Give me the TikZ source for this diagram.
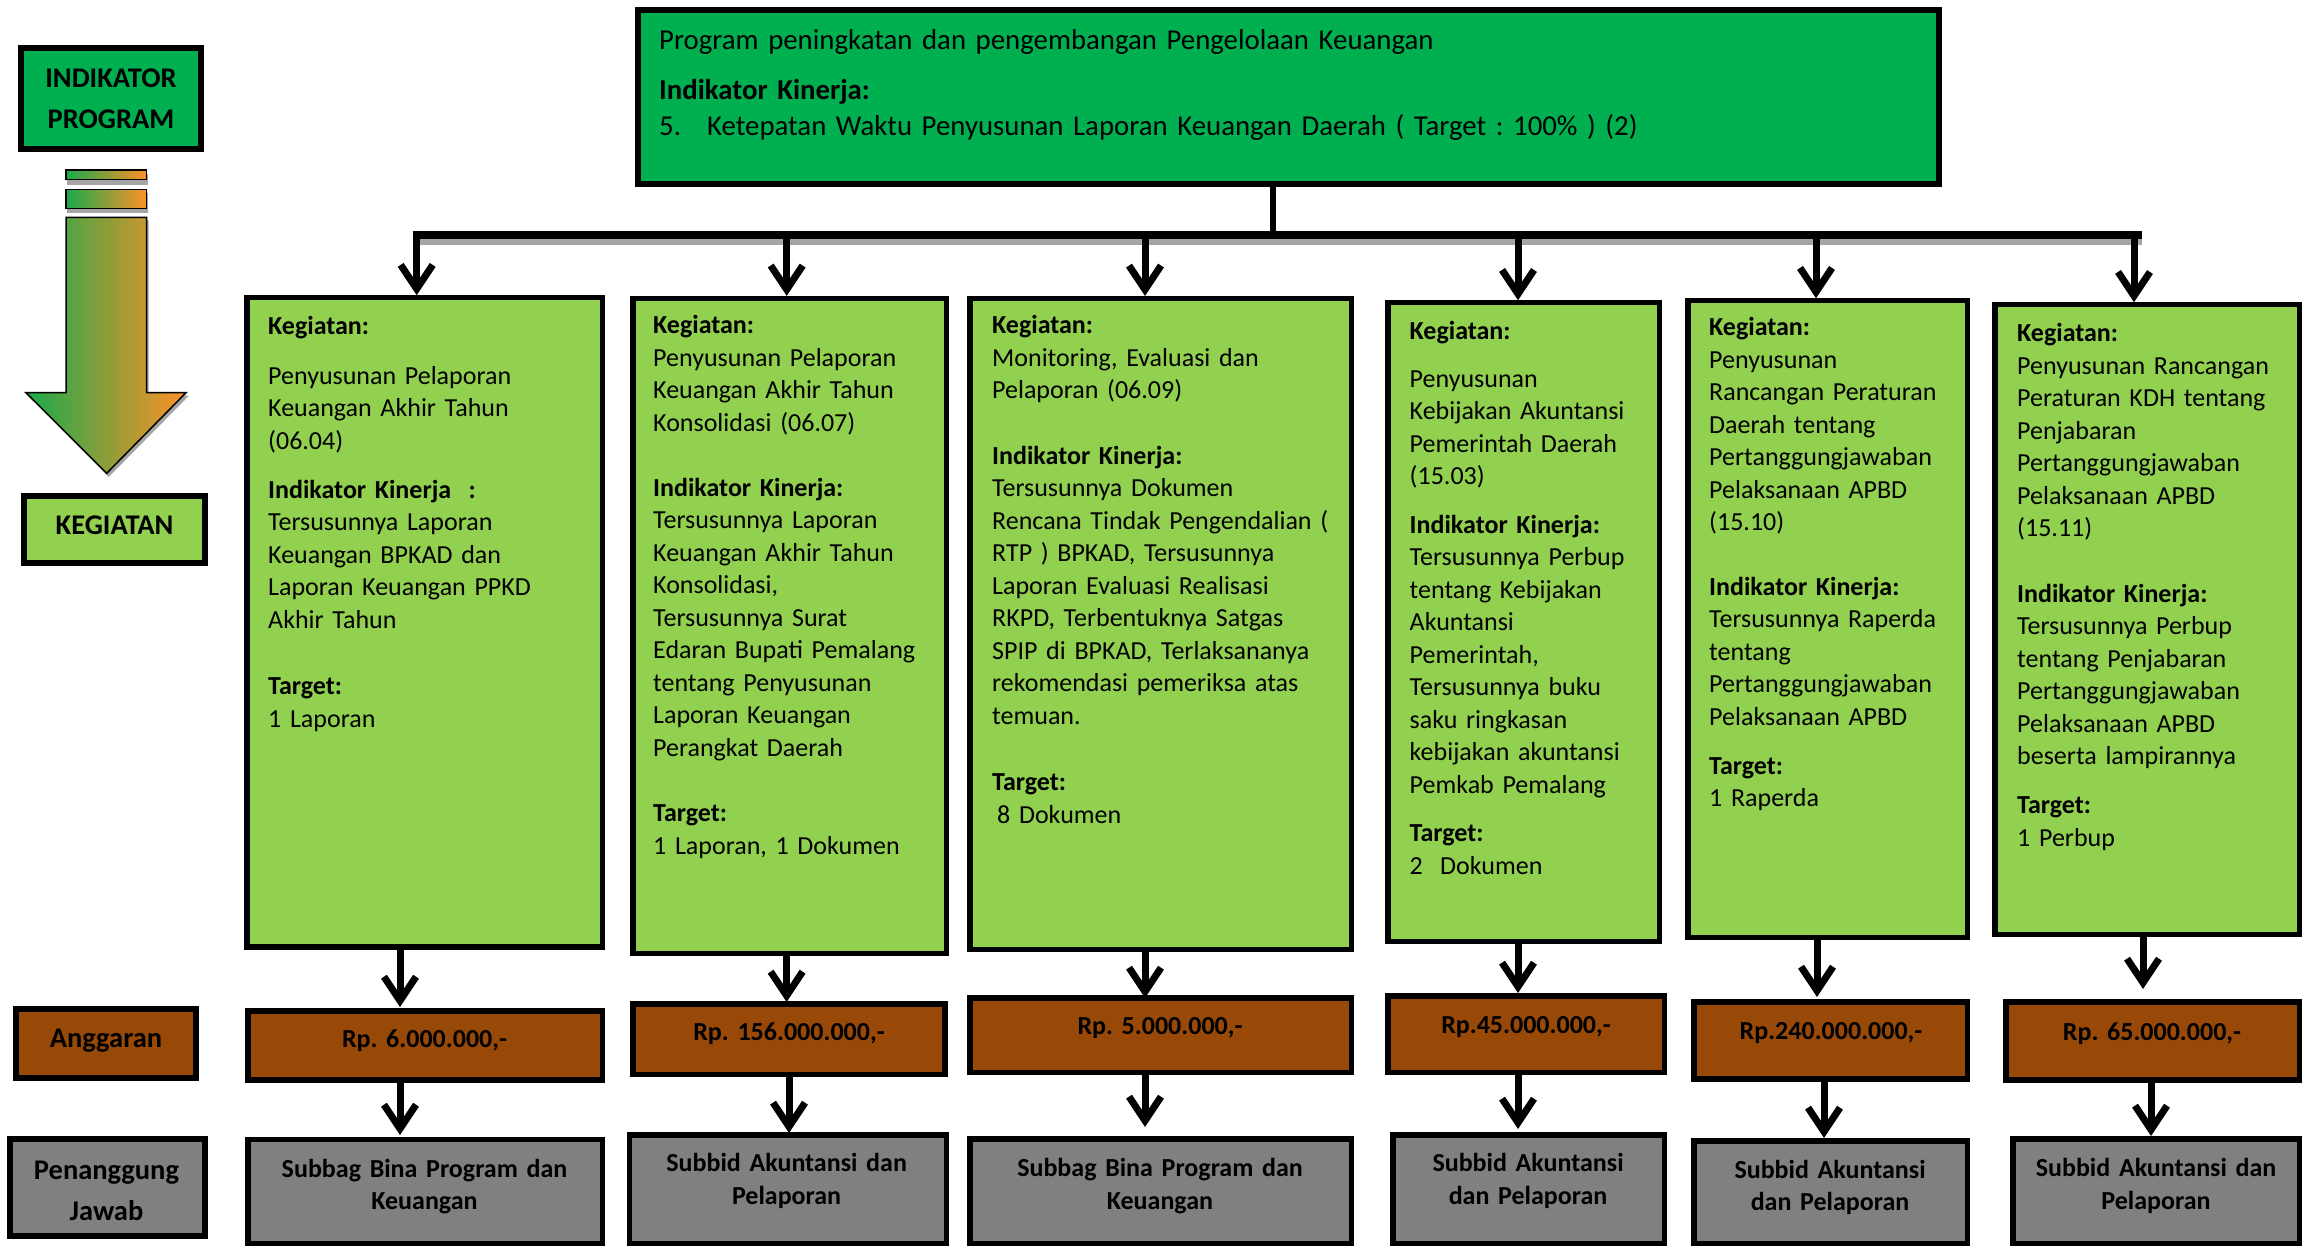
\documentclass[tikz,border=0pt]{standalone}
\usepackage{fontspec}
\setmainfont{Carlito}
\usetikzlibrary{arrows.meta,calc}
\definecolor{dgreen}{RGB}{0,176,80}
\definecolor{lgreen}{RGB}{146,208,80}
\definecolor{brownbox}{RGB}{152,72,7}
\definecolor{graybox}{RGB}{128,128,128}
\definecolor{gleft}{RGB}{25,170,75}
\definecolor{gright}{RGB}{255,145,40}
\definecolor{shadowgray}{RGB}{165,165,165}
\begin{document}
\frenchspacing
\begin{tikzpicture}[x=1pt,y=-1pt,
  boxbase/.style={draw=black, line width=5.5pt, inner sep=0pt, outer sep=0pt, anchor=north west},
  prog/.style={boxbase, fill=dgreen},
  keg/.style={boxbase, fill=lgreen},
  budget/.style={boxbase, fill=brownbox},
  resp/.style={boxbase, fill=graybox},
  body/.style={font=\fontsize{26}{32.5}\selectfont\frenchspacing, text width=420pt, align=left, anchor=base west, inner sep=0pt},
  lab/.style={font=\fontsize{28.5}{41}\selectfont\bfseries, anchor=base, inner sep=0pt, text width=300pt, align=center},
  val/.style={font=\fontsize{26}{32.5}\selectfont\bfseries\frenchspacing, anchor=base, inner sep=0pt, text width=360pt, align=center},
  arr/.style={line width=7pt, -{Straight Barb[length=24pt,width=32pt]}},
]
\useasboundingbox (0,0) rectangle (2307,1246);

% ---------- left legend column ----------
\node[prog, minimum width=180pt, minimum height=101pt] (ip) at (21,48) {};
\node[lab] (ipt) at (111,87.3) {INDIKATOR\\PROGRAM};

% gradient arrow with shadow
\fill[shadowgray] (67,174) rectangle (148,185);
\fill[shadowgray] (67,193) rectangle (148,212.7);
\fill[shadowgray] (68,220.3) -- (148.7,220.3) -- (148.7,395.7) -- (189,395.7) -- (108.7,477) -- (28,395.7) -- (68,395.7) -- cycle;
\shadedraw[left color=gleft, right color=gright, draw=black, line width=1.5pt] (66,170) rectangle (146.7,179.3);
\shadedraw[left color=gleft, right color=gright, draw=black, line width=1.5pt] (66,189.3) rectangle (146.7,208.3);
\shadedraw[left color=gleft, right color=gright, draw=black, line width=1.5pt, line join=miter]
  (66,217.3) -- (146.7,217.3) -- (146.7,392.7) -- (186,392.7) -- (106.7,473.3) -- (26,392.7) -- (66,392.7) -- cycle;

\node[keg, minimum width=181pt, minimum height=67pt] (kl) at (24,496) {};
\node[lab] (klt) at (114.6,534.6) {KEGIATAN};

\node[budget, minimum width=180pt, minimum height=69pt] (al) at (16,1009) {};
\node[lab] (alt) at (106,1047) {Anggaran};

\node[resp, minimum width=195pt, minimum height=97pt] (pl) at (10,1139) {};
\node[lab] (plt) at (106.5,1179) {Penanggung\\Jawab};

% ---------- program box ----------
\node[prog, minimum width=1301pt, minimum height=174pt] (top) at (638,10) {};
\node[body, font=\fontsize{28.8}{32.5}\selectfont\frenchspacing, text width=1250pt] (topt) at (659,49.3) {Program peningkatan dan pengembangan Pengelolaan Keuangan\\[18.2pt]
\textbf{Indikator Kinerja:}\\[3.5pt]
\makebox[48pt][l]{5.}Ketepatan Waktu Penyusunan Laporan Keuangan Daerah ( Target : 100\% ) (2)};

% ---------- kegiatan boxes ----------
\node[keg, minimum width=355.5pt, minimum height=649pt] (k1) at (246.75,297.75) {};
\node[keg, minimum width=313.5pt, minimum height=654.9pt] (k2) at (632.75,298.4) {};
\node[keg, minimum width=381.5pt, minimum height=650.9pt] (k3) at (969.75,298.4) {};
\node[keg, minimum width=271.5pt, minimum height=638.5pt] (k4) at (1387.75,302.75) {};
\node[keg, minimum width=279.5pt, minimum height=636.5pt] (k5) at (1687.75,300.75) {};
\node[keg, minimum width=304.5pt, minimum height=629.5pt] (k6) at (1994.75,304.75) {};

\node[body] (k1t) at (268,335) {\textbf{Kegiatan:}\\[16.6pt]
Penyusunan Pelaporan\\
Keuangan Akhir Tahun\\
(06.04)\\[16.6pt]
\textbf{Indikator Kinerja\ \ :}\\
Tersusunnya Laporan\\
Keuangan BPKAD dan\\
Laporan Keuangan PPKD\\
Akhir Tahun\\[34pt]
\textbf{Target:}\\
1 Laporan};

\node[body] (k2t) at (653,334) {\textbf{Kegiatan:}\\
Penyusunan Pelaporan\\
Keuangan Akhir Tahun\\
Konsolidasi (06.07)\\[32.5pt]
\textbf{Indikator Kinerja:}\\
Tersusunnya Laporan\\
Keuangan Akhir Tahun\\
Konsolidasi,\\
Tersusunnya Surat\\
Edaran Bupati Pemalang\\
tentang Penyusunan\\
Laporan Keuangan\\
Perangkat Daerah\\[33pt]
\textbf{Target:}\\
1 Laporan, 1 Dokumen};

\node[body] (k3t) at (992,334) {\textbf{Kegiatan:}\\
Monitoring, Evaluasi dan\\
Pelaporan (06.09)\\[33pt]
\textbf{Indikator Kinerja:}\\
Tersusunnya Dokumen\\
Rencana Tindak Pengendalian (\\
RTP ) BPKAD, Tersusunnya\\
Laporan Evaluasi Realisasi\\
RKPD, Terbentuknya Satgas\\
SPIP di BPKAD, Terlaksananya\\
rekomendasi pemeriksa atas\\
temuan.\\[34pt]
\textbf{Target:}\\
\hspace*{5pt}8 Dokumen};

\node[body] (k4t) at (1409.5,339.7) {\textbf{Kegiatan:}\\[15pt]
Penyusunan\\
Kebijakan Akuntansi\\
Pemerintah Daerah\\
(15.03)\\[16pt]
\textbf{Indikator Kinerja:}\\
Tersusunnya Perbup\\
tentang Kebijakan\\
Akuntansi\\
Pemerintah,\\
Tersusunnya buku\\
saku ringkasan\\
kebijakan akuntansi\\
Pemkab Pemalang\\[16pt]
\textbf{Target:}\\
2\ \ Dokumen};

\node[body] (k5t) at (1709,336) {\textbf{Kegiatan:}\\
Penyusunan\\
Rancangan Peraturan\\
Daerah tentang\\
Pertanggungjawaban\\
Pelaksanaan APBD\\
(15.10)\\[32pt]
\textbf{Indikator Kinerja:}\\
Tersusunnya Raperda\\
tentang\\
Pertanggungjawaban\\
Pelaksanaan APBD\\[16pt]
\textbf{Target:}\\
1 Raperda};

\node[body] (k6t) at (2017,341.5) {\textbf{Kegiatan:}\\
Penyusunan Rancangan\\
Peraturan KDH tentang\\
Penjabaran\\
Pertanggungjawaban\\
Pelaksanaan APBD\\
(15.11)\\[33pt]
\textbf{Indikator Kinerja:}\\
Tersusunnya Perbup\\
tentang Penjabaran\\
Pertanggungjawaban\\
Pelaksanaan APBD\\
beserta lampirannya\\[16.5pt]
\textbf{Target:}\\
1 Perbup};

% ---------- budget boxes ----------
\node[budget, minimum width=354.5pt, minimum height=69pt] (b1) at (247.75,1010.75) {};
\node[budget, minimum width=312pt, minimum height=70.8pt] (b2) at (632.75,1003.75) {};
\node[budget, minimum width=381.5pt, minimum height=74.5pt] (b3) at (969.75,997.75) {};
\node[budget, minimum width=276.5pt, minimum height=76.5pt] (b4) at (1387.75,995.75) {};
\node[budget, minimum width=273.5pt, minimum height=77pt] (b5) at (1693.75,1001.75) {};
\node[budget, minimum width=293.5pt, minimum height=78pt] (b6) at (2005.75,1002) {};

\node[val] (b1t) at (424.5,1047) {Rp. 6.000.000,-};
\node[val] (b2t) at (789,1040) {Rp. 156.000.000,-};
\node[val] (b3t) at (1160,1034) {Rp. 5.000.000,-};
\node[val] (b4t) at (1526,1033) {Rp.45.000.000,-};
\node[val] (b5t) at (1831,1039) {Rp.240.000.000,-};
\node[val] (b6t) at (2152,1040) {Rp. 65.000.000,-};

% ---------- responsible boxes ----------
\node[resp, minimum width=354.5pt, minimum height=104.75pt] (p1) at (247.75,1139.25) {};
\node[resp, minimum width=316.8pt, minimum height=109.25pt] (p2) at (629.5,1134.75) {};
\node[resp, minimum width=381.5pt, minimum height=105.25pt] (p3) at (969.75,1138.75) {};
\node[resp, minimum width=271.5pt, minimum height=109pt] (p4) at (1392.75,1135) {};
\node[resp, minimum width=273.5pt, minimum height=103.25pt] (p5) at (1693.75,1140.75) {};
\node[resp, minimum width=286.5pt, minimum height=105.25pt] (p6) at (2012.75,1138.75) {};

\node[val] (p1t) at (424.5,1177) {Subbag Bina Program dan\\Keuangan};
\node[val] (p2t) at (786.6,1171.7) {Subbid Akuntansi dan\\Pelaporan};
\node[val] (p3t) at (1160,1176.7) {Subbag Bina Program dan\\Keuangan};
\node[val] (p4t) at (1528,1171.7) {Subbid Akuntansi\\dan Pelaporan};
\node[val] (p5t) at (1830,1178) {Subbid Akuntansi\\dan Pelaporan};
\node[val] (p6t) at (2156,1176.7) {Subbid Akuntansi dan\\Pelaporan};

% ---------- connectors: program -> kegiatan ----------
\coordinate (hub) at (1273,235.5);
\coordinate (bl) at (416.7,235.5);
\coordinate (br) at (2142,235.5);
\draw[line width=6pt] (top.south -| hub) -- (hub);
\draw[line width=6pt, shadowgray] ([yshift=-7pt]bl) -- ([yshift=-7pt]br);
\draw[line width=8pt] ([xshift=-3.5pt]bl) -- (br);

\coordinate (c1) at (416.7,232);
\coordinate (c2) at (786.7,235.5);
\coordinate (c3) at (1145,235.5);
\coordinate (c4) at (1518,235.5);
\coordinate (c5) at (1816,235.5);
\coordinate (c6) at (2134,232);
\draw[arr] (c1) -- ([yshift=2.5pt]k1.north -| c1);
\draw[arr] (c2) -- ([yshift=2.5pt]k2.north -| c2);
\draw[arr] (c3) -- ([yshift=2.5pt]k3.north -| c3);
\draw[arr] (c4) -- ([yshift=2.5pt]k4.north -| c4);
\draw[arr] (c5) -- ([yshift=2.5pt]k5.north -| c5);
\draw[arr] (c6) -- ([yshift=2.5pt]k6.north -| c6);

% ---------- kegiatan -> budget ----------
\coordinate (m1) at (400,1007);
\coordinate (m2) at (786.6,1002);
\coordinate (m3) at (1145,998);
\coordinate (m4) at (1518,993);
\coordinate (m5) at (1817,997);
\coordinate (m6) at (2143,989);
\draw[arr] (k1.south -| m1) -- (m1);
\draw[arr] (k2.south -| m2) -- (m2);
\draw[arr] (k3.south -| m3) -- (m3);
\draw[arr] (k4.south -| m4) -- (m4);
\draw[arr] (k5.south -| m5) -- (m5);
\draw[arr] (k6.south -| m6) -- (m6);

% ---------- budget -> responsible ----------
\coordinate (n1) at (400,1135);
\coordinate (n2) at (789,1133);
\coordinate (n3) at (1145,1127);
\coordinate (n4) at (1518,1129);
\coordinate (n5) at (1824,1138);
\coordinate (n6) at (2151,1136);
\draw[arr] (b1.south -| n1) -- (n1);
\draw[arr] (b2.south -| n2) -- (n2);
\draw[arr] (b3.south -| n3) -- (n3);
\draw[arr] (b4.south -| n4) -- (n4);
\draw[arr] (b5.south -| n5) -- (n5);
\draw[arr] (b6.south -| n6) -- (n6);
\end{tikzpicture}
\end{document}
